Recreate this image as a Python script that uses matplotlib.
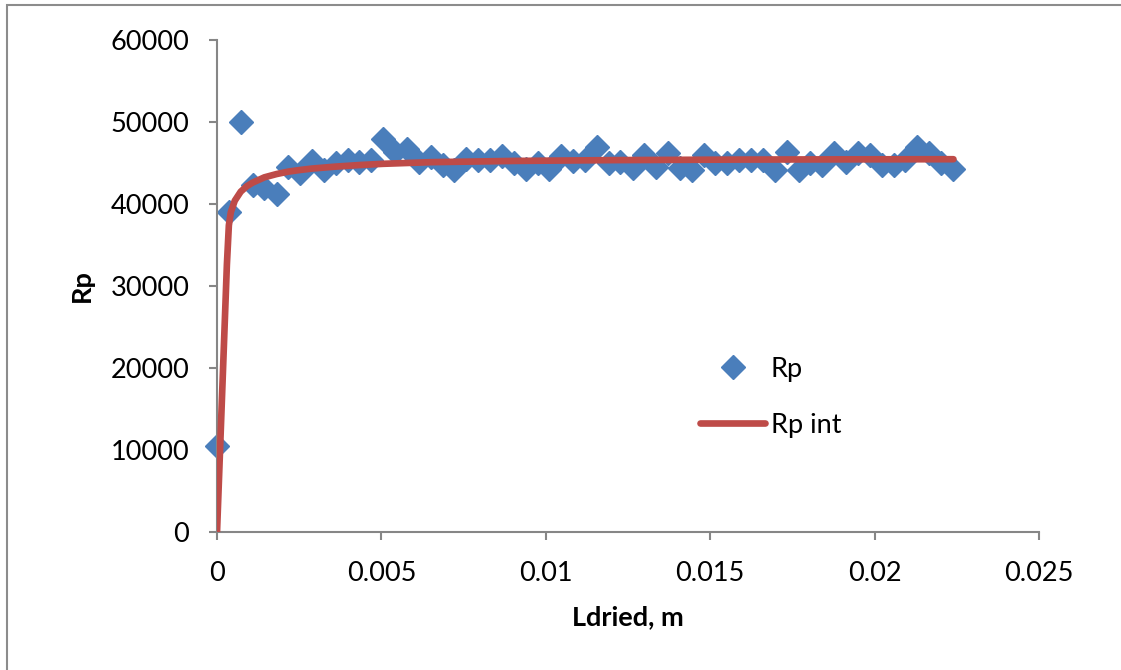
import matplotlib.pyplot as plt
from matplotlib.patches import Rectangle

# puntos medidos: espesor de capa seca (m) y Rp
ldried = [0, 0.00036, 0.00072, 0.00108, 0.00144, 0.00181, 0.00217, 0.00253, 0.00289,
          0.00325, 0.00361, 0.00397, 0.00433, 0.00469, 0.00505, 0.00542, 0.00578,
          0.00614, 0.0065, 0.00686, 0.00722, 0.00758, 0.00794, 0.0083, 0.00866,
          0.00903, 0.00939, 0.00975, 0.01011, 0.01047, 0.01083, 0.01119, 0.01155,
          0.01191, 0.01227, 0.01264, 0.013, 0.01336, 0.01372, 0.01408, 0.01444,
          0.0148, 0.01516, 0.01552, 0.01588, 0.01625, 0.01661, 0.01697, 0.01733,
          0.01769, 0.01805, 0.01841, 0.01877, 0.01913, 0.01949, 0.01986, 0.02022,
          0.02058, 0.02094, 0.0213, 0.02166, 0.02202, 0.02238]
rp = [10500, 39000, 50000, 42300, 42000, 41200, 44550, 43800, 45300, 44150,
      44960, 45370, 45160, 45370, 47880, 46380, 46670, 45160, 45770, 44760,
      44150, 45450, 45370, 45370, 45850, 44960, 44230, 44960, 44230, 45850,
      45280, 45370, 46910, 44960, 45160, 44350, 45980, 44550, 46180, 44350,
      44150, 45980, 44960, 45040, 45370, 45370, 45370, 44150, 46380, 44150,
      44960, 44760, 46180, 45160, 46180, 45980, 44760, 44760, 45370, 46990,
      46180, 44960, 44230]

# curva ajustada (Rp int)
ldried_int = [0, 0.0003, 0.00036, 0.00042, 0.00054, 0.00072, 0.0009, 0.00108,
              0.00144, 0.00181, 0.00217, 0.00253, 0.00289, 0.00361, 0.00433,
              0.00505, 0.0065, 0.009, 0.012, 0.016, 0.02, 0.0224]
rp_int = [0, 32600, 37400, 39000, 40400, 41500, 42150, 42600,
          43250, 43650, 43950, 44150, 44320, 44560, 44750,
          44900, 45100, 45250, 45350, 45420, 45450, 45460]

xticks = [0, 0.005, 0.01, 0.015, 0.02, 0.025]
xticklabels = ['0', '0.005', '0.01', '0.015', '0.02', '0.025']
yticks = [0, 10000, 20000, 30000, 40000, 50000, 60000]

plt.rcParams['font.family'] = ['Lato', 'DejaVu Sans']

fig = plt.figure(figsize=(11.21, 6.70), dpi=100)
ax = fig.add_axes([0.1936, 0.2060, 0.7332, 0.7343])

ax.plot(ldried, rp, linestyle='none', marker='D', markersize=12,
        color='#4A7EBB', label='Rp', zorder=2, clip_on=False)
ax.plot(ldried_int, rp_int, color='#BE4B48', linewidth=4.8,
        solid_capstyle='round', solid_joinstyle='round', label='Rp int', zorder=3)

ax.set_xlim(0, 0.025)
ax.set_ylim(0, 60000)
ax.set_xticks(xticks)
ax.set_xticklabels(xticklabels)
ax.set_yticks(yticks)
for s in ['top', 'right']:
    ax.spines[s].set_visible(False)
for s in ['left', 'bottom']:
    ax.spines[s].set_color('#868686')
    ax.spines[s].set_linewidth(1.5)
ax.tick_params(axis='both', direction='out', length=6, width=1.5, color='#868686',
               labelsize=19.5, labelcolor='black')
ax.tick_params(axis='y', pad=14)
ax.tick_params(axis='x', pad=15)
ax.set_xlabel('Ldried, m', fontsize=19.5, fontweight='bold', labelpad=14)
ax.set_ylabel('Rp', fontsize=19.5, fontweight='bold', labelpad=12)

ax.legend(loc='upper left', bbox_to_anchor=(0.6126, 0.488), bbox_transform=fig.transFigure,
          frameon=False, fontsize=19.5, handlelength=2.4, labelspacing=1.15,
          handletextpad=0.2, borderpad=0)

# marco del área del gráfico
fig.patches.append(Rectangle((7 / 1121, -0.1), 1.2, (670 - 5) / 670 + 0.1,
                             transform=fig.transFigure, fill=False,
                             edgecolor='#8C8C8C', linewidth=1.5))

plt.savefig('out.png', dpi=100)
